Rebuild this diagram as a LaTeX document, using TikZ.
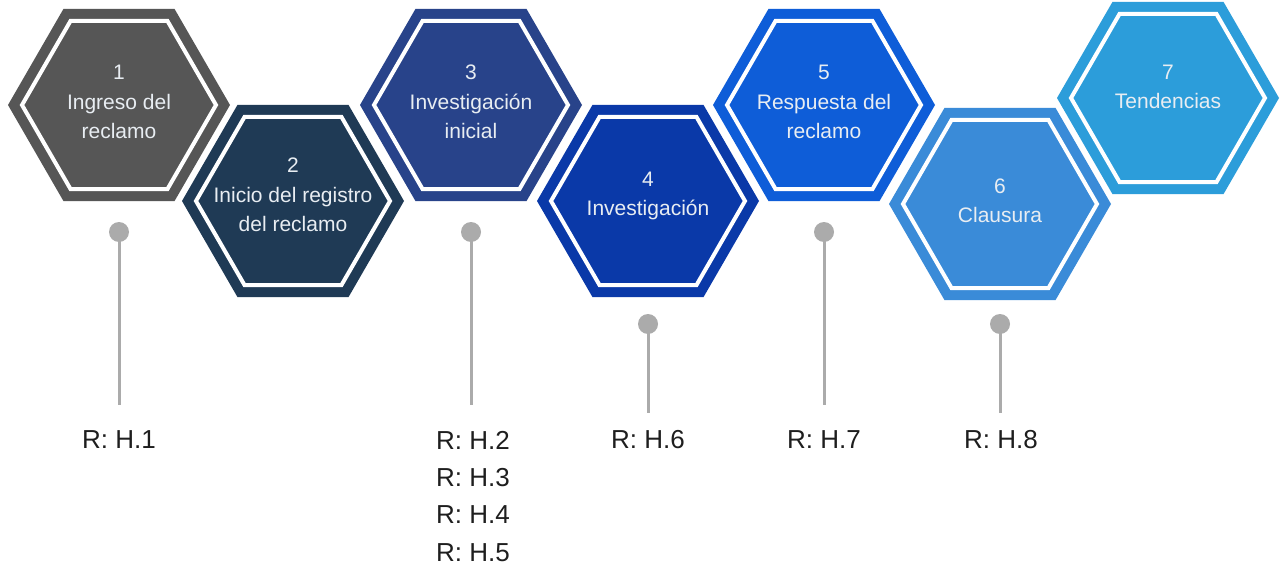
\documentclass[tikz,border=0pt]{standalone}
\usepackage{fontspec}
\setmainfont{Liberation Sans}
\usetikzlibrary{shapes.geometric}

\definecolor{hexone}{HTML}{565656}
\definecolor{hextwo}{HTML}{1F3A55}
\definecolor{hexthree}{HTML}{28438A}
\definecolor{hexfour}{HTML}{0A39A8}
\definecolor{hexfive}{HTML}{0E5DD8}
\definecolor{hexsix}{HTML}{3A8BD8}
\definecolor{hexseven}{HTML}{2C9DDA}
\definecolor{hexfont}{HTML}{E8EDF2}
\definecolor{pingray}{HTML}{ABABAB}
\definecolor{labelblack}{HTML}{1E1E1E}

\begin{document}
\begin{tikzpicture}[x=1pt, y=-1pt]
    \tikzset{
        hexcell/.style={regular polygon, regular polygon sides=6, minimum size=222pt, inner sep=0pt},
        hexring/.style={regular polygon, regular polygon sides=6, minimum size=194pt, inner sep=0pt, draw=white, line width=4pt},
        hextext/.style={text=hexfont, align=center, inner sep=0pt, font=\fontsize{21}{29.5}\selectfont},
        pin/.style={circle, fill=pingray, minimum size=20pt, inner sep=0pt},
        pinline/.style={draw=pingray, line width=3pt},
        reflabel/.style={text=labelblack, align=left, inner sep=0pt, font=\fontsize{26}{37.3}\selectfont}
    }

    % --- canvas ---
    \fill[white] (0,0) rectangle (1280,567);
    \useasboundingbox (0,0) rectangle (1280,567);

    % --- HEXAGONS: step number and name ---
    \foreach \n/\cx/\cy/\col/\ty/\txt in {
        1/119/105/hexone/102/{1\\Ingreso del\\reclamo},
        2/293/201/hextwo/195/{2\\Inicio del registro\\del reclamo},
        3/471/105/hexthree/102/{3\\Investigación\\inicial},
        4/648/201/hexfour/196/{4\\Investigación},
        5/824/105/hexfive/102/{5\\Respuesta del\\reclamo},
        6/1000/204/hexsix/201/{6\\Clausura},
        7/1168/98/hexseven/87/{7\\Tendencias}} {
        \node[hexcell, fill=\col] (hex\n) at (\cx,\cy) {};
        \node[hexring] (ring\n) at (hex\n.center) {};
        \node[hextext] (txt\n) at (\cx,\ty) {\txt};
    }

    % --- PINS below the hexagons ---
    \foreach \n/\cx/\py/\ey in {1/119/232/405, 3/471/232/405, 4/648/324/413, 5/824/232/405, 6/1000/324/413} {
        \node[pin] (pin\n) at (\cx,\py) {};
        \coordinate (pinend\n) at (\cx,\ey);
        \draw[pinline] (pin\n.center) -- (pinend\n);
    }

    % --- REFERENCES ---
    \node[reflabel] (ref1) at (119,440) {R: H.1};
    \node[reflabel, anchor=north] (ref3) at (473,431) {R: H.2\\R: H.3\\R: H.4\\R: H.5};
    \node[reflabel] (ref4) at (648,440) {R: H.6};
    \node[reflabel] (ref5) at (824,440) {R: H.7};
    \node[reflabel] (ref6) at (1001,440) {R: H.8};
\end{tikzpicture}
\end{document}
